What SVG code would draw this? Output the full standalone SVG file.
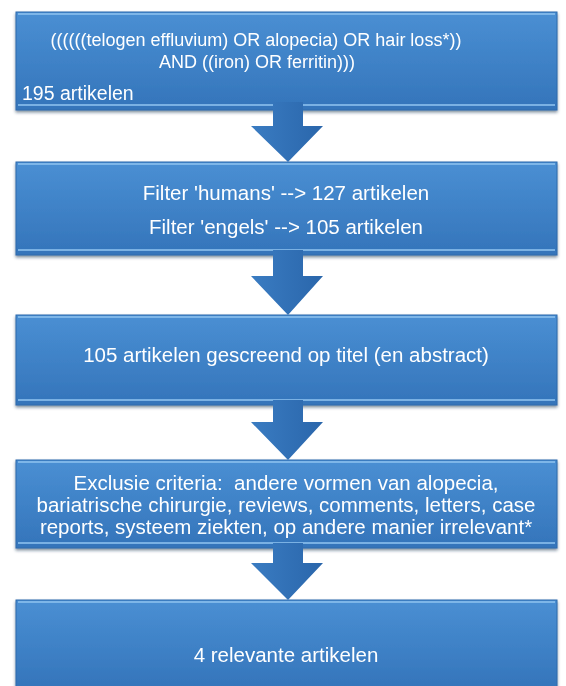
<svg xmlns="http://www.w3.org/2000/svg" width="566" height="686" viewBox="0 0 566 686">
<defs>
<linearGradient id="boxg" x1="0" y1="0" x2="0" y2="1">
<stop offset="0" stop-color="#4a8fd3"/>
<stop offset="0.5" stop-color="#3f82c7"/>
<stop offset="1" stop-color="#3474ba"/>
</linearGradient>
<linearGradient id="arrg" x1="0" y1="0" x2="1" y2="0">
<stop offset="0" stop-color="#3a7cc2"/>
<stop offset="1" stop-color="#2a66ab"/>
</linearGradient>
<filter id="sh" x="-5%" y="-10%" width="110%" height="130%">
<feGaussianBlur in="SourceAlpha" stdDeviation="1.5"/>
<feOffset dx="0" dy="2" result="b"/>
<feFlood flood-color="#1a3550" flood-opacity="0.55"/>
<feComposite in2="b" operator="in"/>
<feMerge><feMergeNode/><feMergeNode in="SourceGraphic"/></feMerge>
</filter>
</defs>
<style>
.box{fill:url(#boxg);stroke:#2d6aad;stroke-width:1}
.hl{stroke:#8cc0ee;stroke-width:2;opacity:0.8}
.t{font-family:"Liberation Sans",Arial,sans-serif;font-size:20.5px;fill:#ffffff;white-space:pre}
.s{font-size:18px}
.c{text-anchor:middle}
.arr{fill:url(#arrg)}
</style>
<rect width="566" height="686" fill="#ffffff"/>
<g id="n1" filter="url(#sh)">
<rect class="box" x="16" y="12" width="541" height="98"/>
<line class="hl" x1="18" y1="14" x2="555" y2="14"/>
<line class="hl" x1="18" y1="105" x2="555" y2="105"/>
<text class="t s c" x="256" y="46">((((((telogen effluvium) OR alopecia) OR hair loss*))</text>
<text class="t s c" x="257" y="68">AND ((iron) OR ferritin)))</text>
<text class="t" x="22" y="100" style="font-size:19.5px">195 artikelen</text>
</g>
<g id="n2" filter="url(#sh)">
<rect class="box" x="16" y="162" width="541" height="93"/>
<line class="hl" x1="18" y1="164" x2="555" y2="164"/>
<line class="hl" x1="18" y1="250" x2="555" y2="250"/>
<text class="t c" x="286" y="200">Filter 'humans' --&gt; 127 artikelen</text>
<text class="t c" x="286" y="234">Filter 'engels' --&gt; 105 artikelen</text>
</g>
<g id="n3" filter="url(#sh)">
<rect class="box" x="16" y="315" width="541" height="90"/>
<line class="hl" x1="18" y1="317" x2="555" y2="317"/>
<line class="hl" x1="18" y1="400" x2="555" y2="400"/>
<text class="t c" x="286" y="362">105 artikelen gescreend op titel (en abstract)</text>
</g>
<g id="n4" filter="url(#sh)">
<rect class="box" x="16" y="460" width="541" height="88"/>
<line class="hl" x1="18" y1="462" x2="555" y2="462"/>
<line class="hl" x1="18" y1="543" x2="555" y2="543"/>
<text class="t c" x="286" y="490">Exclusie criteria:  andere vormen van alopecia,</text>
<text class="t c" x="286" y="512">bariatrische chirurgie, reviews, comments, letters, case</text>
<text class="t c" x="286" y="534">reports, systeem ziekten, op andere manier irrelevant*</text>
</g>
<g id="n5" filter="url(#sh)">
<rect class="box" x="16" y="600" width="541" height="90"/>
<line class="hl" x1="18" y1="602" x2="555" y2="602"/>
<text class="t c" x="286" y="662">4 relevante artikelen</text>
</g>
<g id="connectors">
<path class="arr" d="M273,102 H303 V126 H323 L288,162 L251,126 H273 Z"/>
<path class="arr" d="M273,250 H303 V276 H323 L288,315 L251,276 H273 Z"/>
<path class="arr" d="M273,400 H303 V422 H323 L288,460 L251,422 H273 Z"/>
<path class="arr" d="M273,543 H303 V563 H323 L288,600 L251,563 H273 Z"/>
</g>
</svg>
